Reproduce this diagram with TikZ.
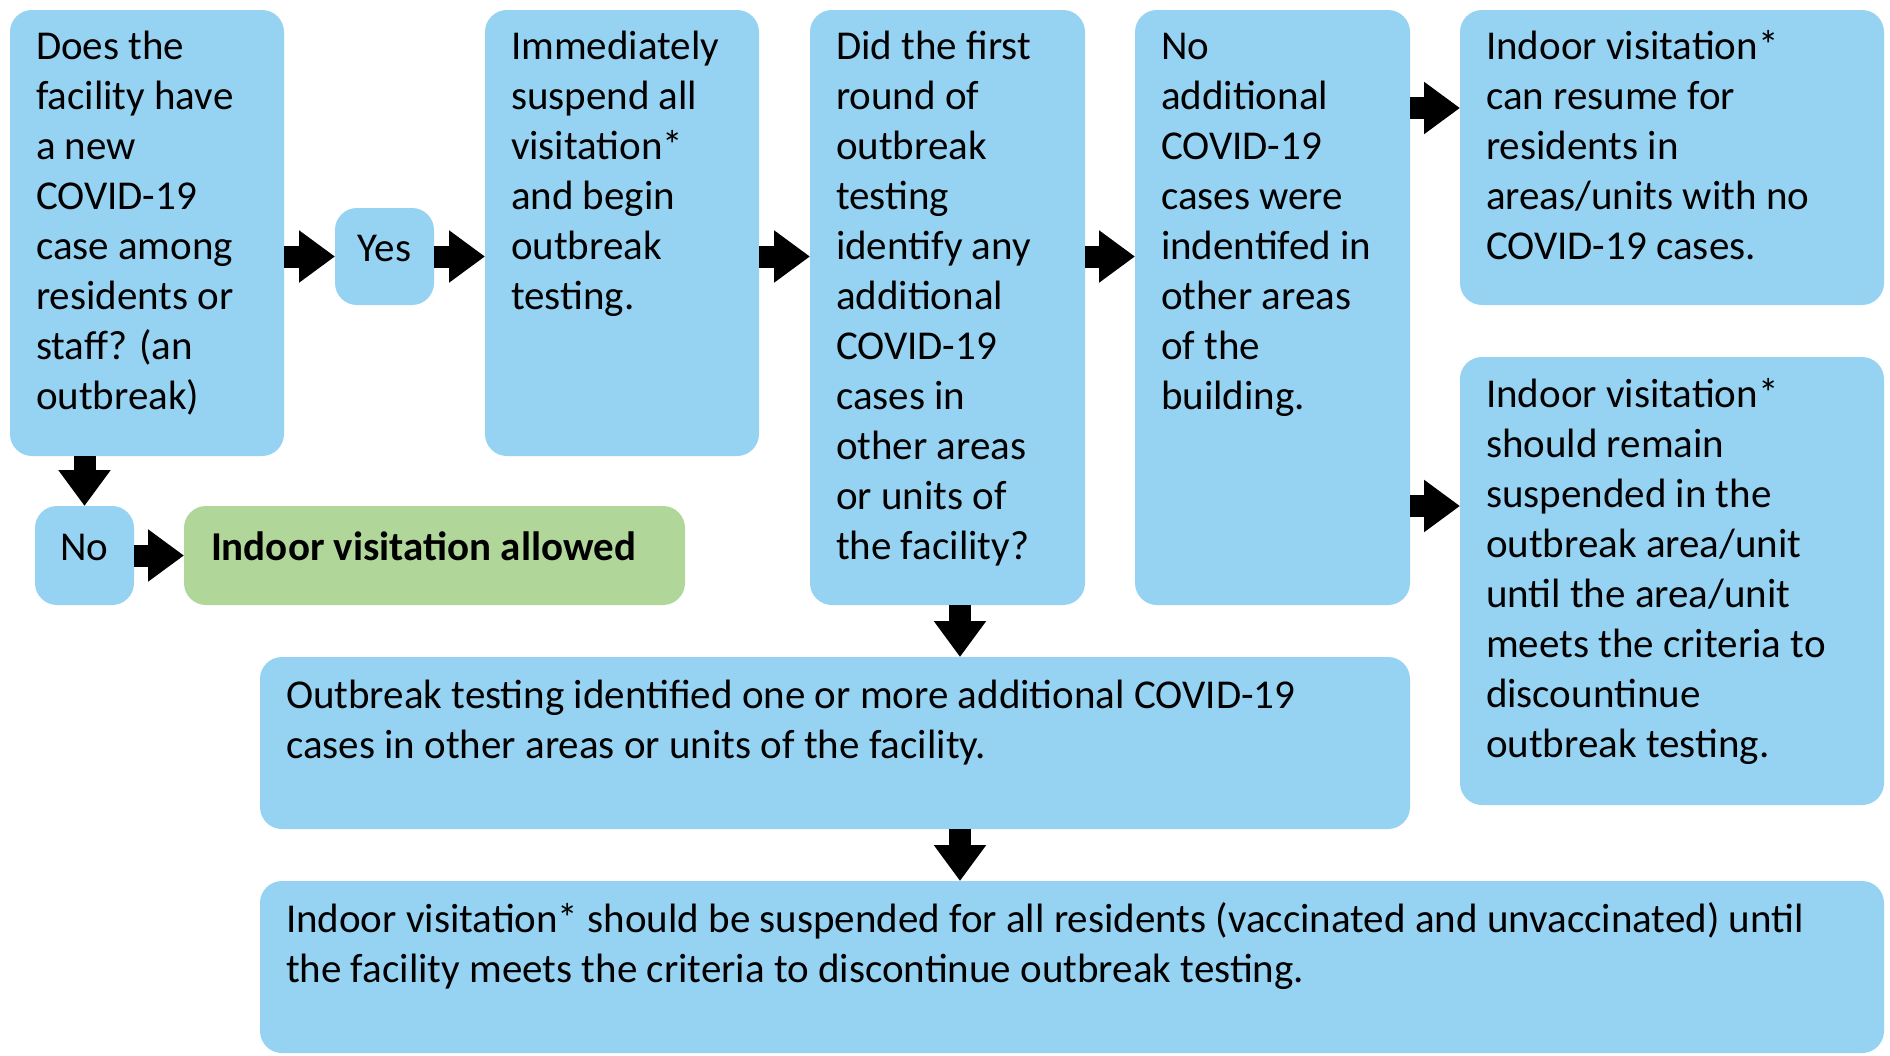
\documentclass[tikz,border=0pt]{standalone}
\usepackage{fontspec}
\setmainfont{Carlito}
\usetikzlibrary{arrows.meta}
\definecolor{boxblue}{RGB}{150,210,242}
\definecolor{boxgreen}{RGB}{176,215,153}
\newcommand{\btext}[5]{\parbox[t][#2][t]{#1}{\raggedright\leftskip=#4\relax\rule{0pt}{#3}#5}}
\begin{document}
\begin{tikzpicture}[x=1pt,y=-1pt,
  font=\fontsize{41pt}{50pt}\selectfont,
  box/.style={fill=boxblue, rounded corners=22pt, inner sep=0pt, outer sep=0pt, anchor=north west},
  gbox/.style={box, fill=boxgreen},
  barrow/.style={line width=22pt, -{Triangle[length=36pt,width=50pt]}}]
\useasboundingbox[fill=white] (0,0) rectangle (1890,1055);

\node[box] (q1) at (10,10) {\btext{274pt}{446pt}{49pt}{26pt}{Does the\\ facility have\\ a new\\ COVID-19\\ case among\\ residents or\\ staff? (an\\ outbreak)}};
\node[box, minimum width=99pt, minimum height=97pt, text depth=16pt] (yes) at (335,208) {Yes};
\node[box] (a2) at (485,10) {\btext{274pt}{446pt}{49pt}{26pt}{Immediately\\ suspend all\\ visitation*\\ and begin\\ outbreak\\ testing.}};
\node[box] (a3) at (810,10) {\btext{275pt}{595pt}{49pt}{26pt}{Did the first\\ round of\\ outbreak\\ testing\\ identify any\\ additional\\ COVID-19\\ cases in\\ other areas\\ or units of\\ the facility?}};
\node[box] (a4) at (1135,10) {\btext{275pt}{595pt}{49pt}{26pt}{No\\ additional\\ COVID-19\\ cases were\\ indentifed in\\ other areas\\ of the\\ building.}};
\node[box] (a5) at (1460,10) {\btext{424pt}{295pt}{49pt}{26pt}{Indoor visitation*\\ can resume for\\ residents in\\ areas/units with no\\ COVID-19 cases.}};
\node[box] (a6) at (1460,357) {\btext{424pt}{448pt}{50pt}{26pt}{Indoor visitation*\\ should remain\\ suspended in the\\ outbreak area/unit\\ until the area/unit\\ meets the criteria to\\ discountinue\\ outbreak testing.}};
\node[box, minimum width=99pt, minimum height=99pt, text depth=16pt] (no) at (35,506) {No};
\node[gbox] (green) at (184,506) {\btext{501pt}{99pt}{54pt}{27pt}{\bfseries Indoor visitation allowed}};
\node[box] (ob) at (260,657) {\btext{1150pt}{172pt}{51pt}{26pt}{Outbreak testing identified one or more additional COVID-19\\ cases in other areas or units of the facility.}};
\node[box] (fin) at (260,881) {\btext{1624pt}{172pt}{51pt}{26pt}{Indoor visitation* should be suspended for all residents (vaccinated and unvaccinated) until\\ the facility meets the criteria to discontinue outbreak testing.}};

\coordinate (c5) at ([yshift=-98pt]a5.north west);
\coordinate (c6) at ([yshift=-149pt]a6.north west);
\coordinate (c7) at ([xshift=700pt]ob.north west);
\coordinate (c8) at ([xshift=700pt]fin.north west);

\draw[barrow] (q1.east |- yes.west) -- (yes.west);
\draw[barrow] (yes.east) -- (yes.east -| a2.west);
\draw[barrow] (a2.east |- yes.east) -- (a3.west |- yes.east);
\draw[barrow] (a3.east |- yes.east) -- (a4.west |- yes.east);
\draw[barrow] (a4.east |- c5) -- (c5);
\draw[barrow] (a4.east |- c6) -- (c6);
\draw[barrow] (q1.south -| no.north) -- (no.north);
\draw[barrow] (no.east) -- (green.west);
\draw[barrow] (a3.south -| c7) -- (c7);
\draw[barrow] (ob.south -| c8) -- (c8);
\end{tikzpicture}
\end{document}
